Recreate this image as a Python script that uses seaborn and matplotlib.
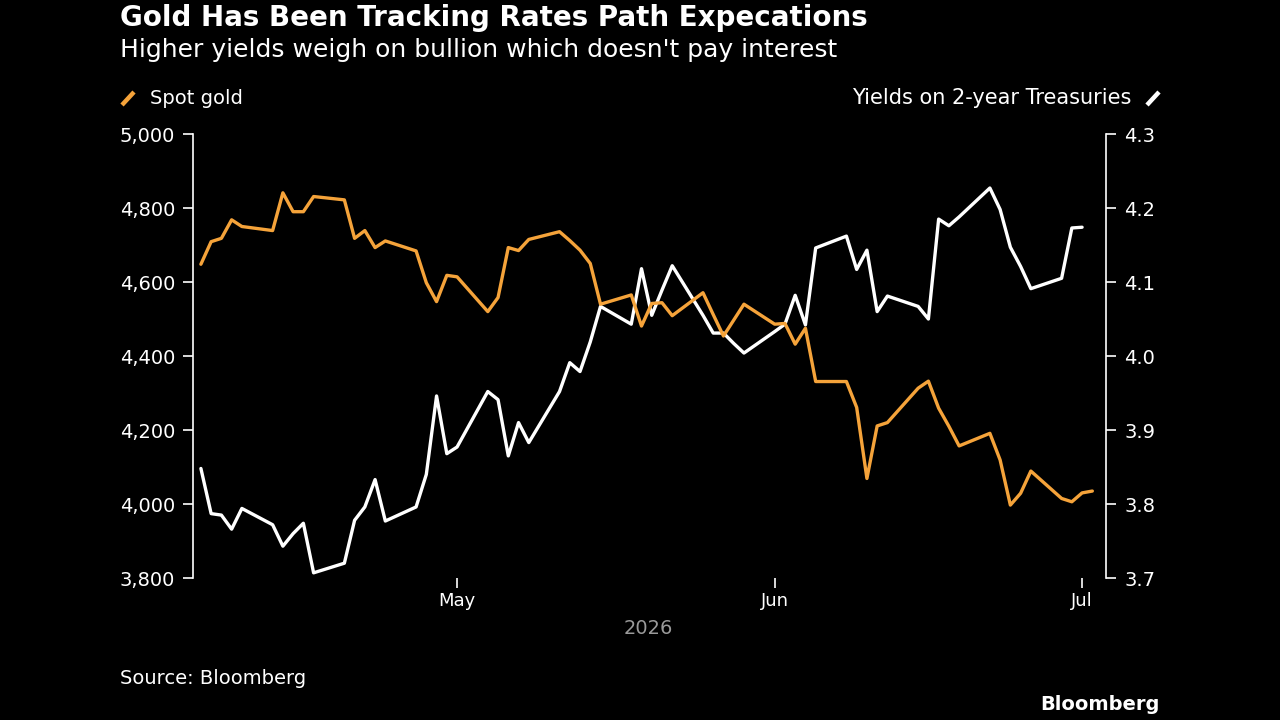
import pandas as pd
import numpy as np
import seaborn as sn
import matplotlib.pyplot as plt
import matplotlib.dates as mdates
from matplotlib.lines import Line2D
from matplotlib.ticker import FuncFormatter

# --- data (business days, 2026-04-06 .. 2026-07-02) ---
dates = pd.bdate_range('2026-04-06', '2026-07-02')

gold = [4648, 4709, 4718, 4768, 4750, 4739, 4841, 4790, 4790, 4831,
        4822, 4718, 4739, 4693, 4711, 4684, 4598, 4547, 4618,
        4614, 4520, 4558, 4693, 4685, 4715, 4736, 4712, 4686, 4650,
        4540, 4565, 4481, 4542, 4544, 4509, 4571, 4512, 4454, 4497, 4540,
        4486, 4488, 4432, 4475, 4331, 4331, 4261, 4069, 4211, 4220,
        4313, 4332, 4259, 4210, 4157, 4191, 4119, 3997, 4029, 4089,
        4015, 4006,
        4030, 4035]

yields = [3.848, 3.787, 3.785, 3.766, 3.794, 3.772, 3.743, 3.760, 3.774, 3.707,
          3.720, 3.778, 3.796, 3.833, 3.777, 3.796, 3.840, 3.946, 3.868,
          3.877, 3.952, 3.941, 3.865, 3.910, 3.883, 3.952, 3.991, 3.979, 4.019,
          4.067, 4.043, 4.118, 4.055, 4.089, 4.122, 4.055, 4.031, 4.031, 4.017, 4.004,
          4.033, 4.043, 4.082, 4.042, 4.146, 4.162, 4.117, 4.143, 4.060, 4.081,
          4.067, 4.050, 4.185, 4.176, 4.188, 4.227, 4.198, 4.147, 4.121, 4.091,
          4.105, 4.173,
          4.174, np.nan]

gold_ticks = [3800, 4000, 4200, 4400, 4600, 4800, 5000]
yield_ticks = [3.7, 3.8, 3.9, 4.0, 4.1, 4.2, 4.3]

df = pd.DataFrame({'date': dates, 'gold': gold, 'yield': yields})

ORANGE = '#f5a33a'
BG = 'black'
FG = 'white'

sn.set_style('ticks', rc={'axes.facecolor': BG, 'figure.facecolor': BG,
                          'axes.edgecolor': FG, 'xtick.color': FG, 'ytick.color': FG,
                          'text.color': FG, 'axes.labelcolor': FG})
plt.rcParams['font.family'] = ['DejaVu Sans']

fig = plt.figure(figsize=(12.8, 7.2), dpi=100)
ax = fig.add_axes([193/1280, 1-578/720, (1106-193)/1280, (578-134)/720])
ax2 = ax.twinx()

sn.lineplot(data=df, x='date', y='gold', ax=ax, color=ORANGE, lw=2.4, zorder=3)
sn.lineplot(data=df, x='date', y='yield', ax=ax2, color=FG, lw=2.4, zorder=2)
ax.set_zorder(ax2.get_zorder() + 1)
ax.patch.set_visible(False)

ax.set_xlim(pd.Timestamp('2026-04-05 05:30'), pd.Timestamp('2026-07-03 08:00'))
ax.set_ylim(3800, 5000)
ax2.set_ylim(3.7, 4.3)
ax.set_yticks(gold_ticks)
ax2.set_yticks(yield_ticks)
ax.yaxis.set_major_formatter(FuncFormatter(lambda v, p: f'{int(v):,}'))
ax2.yaxis.set_major_formatter(FuncFormatter(lambda v, p: f'{v:.1f}'))

ax.xaxis.set_major_locator(mdates.MonthLocator())
ax.xaxis.set_major_formatter(mdates.DateFormatter('%b'))

for a in (ax, ax2):
    a.set_xlabel('')
    a.set_ylabel('')
    a.spines['top'].set_visible(False)
    a.spines['bottom'].set_visible(False)
    a.grid(False)
ax.spines['right'].set_visible(False)
ax2.spines['left'].set_visible(False)
ax.spines['left'].set_color(FG)
ax2.spines['right'].set_color(FG)
ax.spines['left'].set_linewidth(1.2)
ax2.spines['right'].set_linewidth(1.2)

ax.tick_params(axis='y', length=7, width=1.2, labelsize=14, pad=6, colors=FG)
ax2.tick_params(axis='y', length=7, width=1.2, labelsize=14, pad=6, colors=FG)
ax.tick_params(axis='x', length=7, width=1.2, labelsize=13, pad=3, colors=FG)

# titles and annotations
fig.text(120/1280, 1-18/720, 'Gold Has Been Tracking Rates Path Expecations',
         fontsize=20, fontweight='bold', va='center', ha='left')
fig.text(120/1280, 1-50/720, "Higher yields weigh on bullion which doesn't pay interest",
         fontsize=18, va='center', ha='left')

# legend entries
fig.add_artist(Line2D([122/1280, 134/1280], [1-105/720, 1-92/720], color=ORANGE, lw=3.2,
                      solid_capstyle='butt'))
fig.text(150/1280, 1-98/720, 'Spot gold', fontsize=14, va='center', ha='left')
fig.add_artist(Line2D([1147/1280, 1159/1280], [1-105/720, 1-92/720], color=FG, lw=3.2,
                      solid_capstyle='butt'))
fig.text(1131/1280, 1-98/720, 'Yields on 2-year Treasuries', fontsize=15, va='center', ha='right')

fig.text(648/1280, 1-629/720, '2026', fontsize=14, color='#9a9a9a', va='center', ha='center')
fig.text(120/1280, 1-679/720, 'Source: Bloomberg', fontsize=14, va='center', ha='left')
fig.text(1160/1280, 1-705/720, 'Bloomberg', fontsize=14, fontweight='bold', va='center', ha='right')

plt.savefig('out.png', dpi=100, facecolor=BG)
plt.close()
